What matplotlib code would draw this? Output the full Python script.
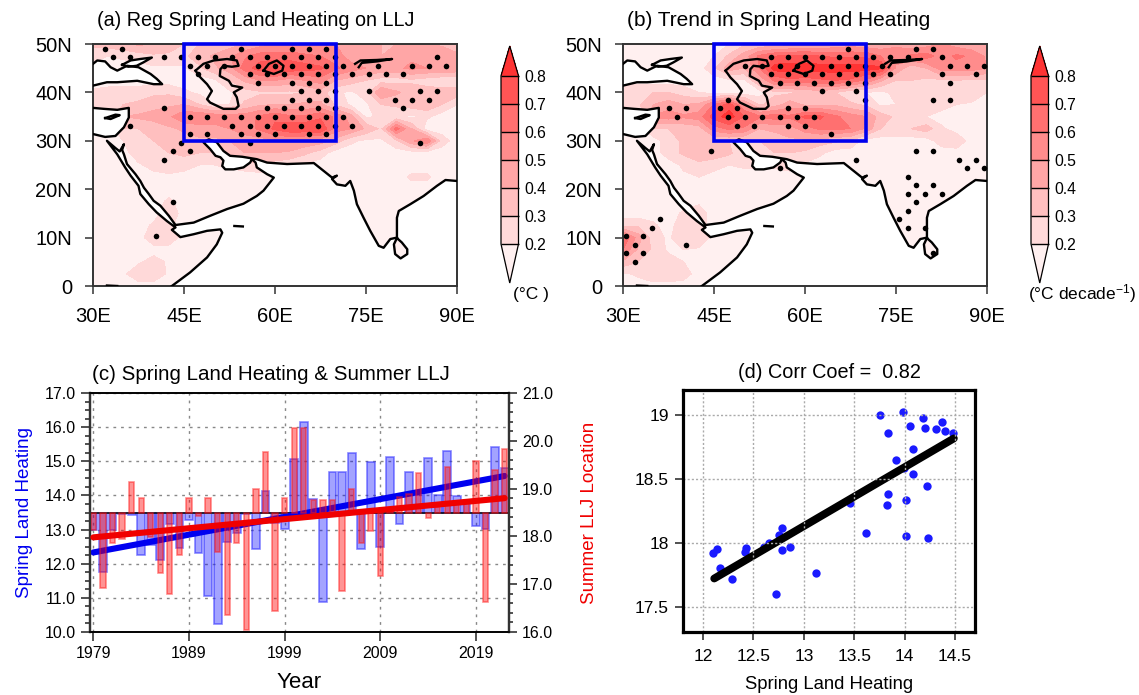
import matplotlib
matplotlib.use("Agg")
import matplotlib.pyplot as plt
import numpy as np
from matplotlib.colors import BoundaryNorm, ListedColormap
from matplotlib.patches import Rectangle
from matplotlib.ticker import MultipleLocator, FormatStrFormatter

plt.rcParams['font.family'] = ['Liberation Sans', 'DejaVu Sans']
plt.rcParams['mathtext.fontset'] = 'custom'
plt.rcParams['mathtext.rm'] = 'Liberation Sans'
plt.rcParams['mathtext.default'] = 'regular'

W, H = 1139, 695

# map data, lat rows from 50N to 0 every 2.5 deg, lon 30E to 90E every 2.5 deg (percent of 1 degC)
lons = np.arange(30, 90.1, 2.5)
lats = np.arange(50, -0.1, -2.5)

field_a = [
    [32,35,38,42,40,35,30,30,30,35,40,45,50,50,50,52,50,45,45,40,40,45,40,38,35],
    [25,20,22,25,28,28,28,35,42,48,58,65,65,65,62,60,55,45,42,40,42,48,50,48,42],
    [15,15,15,15,18,18,18,28,38,45,65,75,80,78,75,72,62,55,50,48,48,52,50,50,48],
    [15,15,15,15,15,15,15,15,18,30,42,50,50,45,50,55,40,35,30,25,25,28,25,22,22],
    [22,24,25,25,28,28,22,18,18,18,25,28,28,28,30,35,22,18,25,50,42,35,35,35,35],
    [28,28,30,32,35,38,40,30,20,20,32,38,40,40,42,42,28,18,18,30,32,35,38,30,20],
    [20,25,40,42,45,48,58,60,58,58,55,62,68,62,62,68,58,45,18,22,22,18,22,15,15],
    [15,15,30,30,32,38,42,45,45,50,55,62,72,78,78,80,55,50,38,28,65,40,15,15,15],
    [15,15,20,30,30,32,35,38,38,40,45,45,50,50,48,45,35,22,18,18,28,48,60,25,15],
    [15,15,15,28,30,30,32,30,30,35,40,40,40,38,32,25,15,15,15,15,15,15,15,15,15],
    [15,15,15,18,25,25,25,20,20,22,25,28,25,22,18,15,15,15,15,15,15,15,15,15,15],
    [15,15,15,15,15,18,15,15,15,15,15,15,15,15,15,15,15,15,15,15,15,22,22,15,15],
    [15,15,15,15,15,15,15,15,15,15,15,15,15,15,15,15,15,15,15,15,15,15,15,15,15],
    [15,15,15,15,15,22,15,15,15,15,15,15,15,15,15,15,15,15,15,15,15,15,15,15,15],
    [15,15,15,15,15,28,15,15,15,15,15,15,15,15,15,15,15,15,15,15,15,15,15,15,15],
    [15,15,15,15,22,22,15,15,15,15,15,15,15,15,15,15,15,15,15,15,15,15,15,15,15],
    [15,15,15,15,28,28,15,15,15,15,15,15,15,15,15,15,15,15,15,15,15,15,15,15,15],
    [15,15,15,15,15,15,15,15,15,15,15,15,15,15,15,15,15,15,15,15,15,15,15,15,15],
    [15,15,15,18,25,18,15,15,15,15,15,15,15,15,15,15,15,15,15,15,15,15,15,15,15],
    [15,15,18,28,28,18,15,15,15,15,15,15,15,15,15,15,15,15,15,15,15,15,15,15,15],
    [15,15,15,15,15,15,15,15,15,15,15,15,15,15,15,15,15,15,15,15,15,15,15,15,15],
]

field_b = [
    [15,18,18,15,15,15,18,20,28,32,32,35,38,38,42,45,42,42,48,42,45,50,45,42,38],
    [15,15,12,15,15,15,20,32,45,62,70,72,72,70,68,68,68,60,55,62,65,55,62,58,48],
    [15,15,15,15,15,15,28,45,40,60,85,85,85,85,85,85,85,82,48,32,40,55,55,55,50],
    [15,15,15,15,15,15,15,18,18,42,62,68,65,68,70,68,58,42,30,30,28,28,30,28,28],
    [28,30,30,30,25,20,15,15,15,15,28,28,32,35,30,22,20,18,22,30,28,28,30,28,20],
    [22,28,40,45,40,42,60,75,50,28,35,45,38,38,38,32,28,18,20,22,28,25,20,18,15],
    [15,20,52,55,52,55,75,85,70,62,65,62,72,72,62,55,50,35,28,30,20,15,15,15,15],
    [15,15,30,30,32,35,55,62,58,40,42,45,55,62,62,60,48,30,28,30,35,22,15,15,15],
    [15,15,15,25,32,35,32,30,28,30,35,38,38,35,32,28,15,15,15,15,15,25,28,15,15],
    [15,15,15,25,32,35,35,32,22,28,30,30,28,22,15,15,15,15,15,15,15,15,15,15,15],
    [15,15,15,15,22,28,25,20,22,22,22,25,18,15,15,15,15,15,15,15,15,15,15,15,15],
    [15,15,15,15,18,20,15,15,15,15,15,15,15,15,15,15,15,15,15,15,15,15,15,15,15],
    [15,15,15,15,15,15,15,15,15,15,15,15,15,15,15,15,15,15,15,15,15,15,15,15,15],
    [15,15,15,15,15,18,15,15,15,15,15,15,15,15,15,15,15,15,15,15,15,15,15,15,15],
    [15,15,15,15,22,25,15,15,15,15,15,15,15,15,15,15,15,15,15,15,15,15,15,15,15],
    [28,28,22,15,28,25,15,15,15,15,15,15,15,15,15,15,15,15,15,15,15,15,15,15,15],
    [70,45,25,18,28,30,15,15,15,15,15,15,15,15,15,15,15,15,15,15,15,15,15,15,15],
    [60,38,28,18,20,18,15,15,15,15,15,15,15,15,15,15,15,15,15,15,15,15,15,15,15],
    [38,30,25,25,20,18,15,15,15,15,15,15,15,15,15,15,15,15,15,15,15,15,15,15,15],
    [18,22,30,30,25,15,15,15,15,15,15,15,15,15,15,15,15,15,15,15,15,15,15,15,15],
    [15,15,15,15,15,15,15,15,15,15,15,15,15,15,15,15,15,15,15,15,15,15,15,15,15],
]

# stippling: (row number from the top, column numbers) on a staggered 2.8 x 1.76 deg grid
stip_a = [
    (0, [0,1,8,11,12,13]), (1, [0,1,3,4,5,6,7,8,9,10,11,12,13,19]),
    (2, [5,6,7,9,10,11,12,13,14,16,18,19,20]), (3, [5,8,9,10,11,12,13,14,15,16,17]),
    (4, [9,11,12,13]), (5, [11,12,13,15,18,19]), (6, [11,12,13,17,18,19]),
    (7, [3,9,10,11,12,13,17]), (8, [5,6,7,8,9,10,11,12,13,14]),
    (9, [1,7,8,9,10,11,12,13,14]), (10, [5,6,8,9,10,12,13]), (11, [4,8,18]),
    (12, [4,5]), (13, [3]), (18, [4]), (22, [3]),
]
stip_b = [
    (0, [12,16,17]), (1, [8,9,10,11,12,13,14,15,16,18]),
    (2, [6,7,8,9,11,12,13,14,18,19,20]), (3, [8,9,10,11,12,13,14,15,18,20]),
    (4, [8,9,10,11,12,13,18]), (5, [11,13]), (6, [5,13,17,18]),
    (7, [2,3,5,6,9,10]), (8, [2,5,6,7,8,9,10]), (9, [6,7,9,10]), (10, [11]),
    (12, [4,16,17]), (13, [13,19,20]), (14, [8,19,20]), (15, [16]), (16, [16,17]),
    (17, [16,17,18]), (18, [16]), (19, [16]), (20, [1,15]), (21, [1,16,17]),
    (22, [-1,0]), (23, [0,3]), (24, [-1,0,17]), (25, [0]),
]

# coastlines (lon, lat)
coast_main = [
    (43.0,0),(46.0,2.8),(48.8,5.9),(50.4,8.6),(51.3,11.0),(51.0,11.7),(48.8,11.4),(46.6,10.7),
    (44.4,10.1),(43.0,11.6),(43.6,12.1),(42.2,13.4),(40.5,15.2),(39.2,16.9),(37.8,19.0),(37.5,20.7),
    (36.2,22.8),(35.3,24.5),(34.0,27.2),(32.3,30.0),(33.7,28.5),(34.4,27.8),(35.1,29.3),(34.8,28.1),
    (35.1,27.2),(35.6,25.2),(37.0,23.1),(37.8,21.7),(38.4,20.3),(39.2,19.0),(40.0,17.6),(41.1,16.6),
    (42.5,14.5),(43.6,12.6),(46.6,13.1),(49.3,14.5),(52.1,15.9),(54.8,17.0),(57.0,18.6),(58.1,19.7),
    (59.8,22.4),(58.7,23.1),(57.0,24.5),(56.8,25.5),(56.2,26.2),(55.9,25.5),(54.8,24.5),(53.2,24.1),
    (51.8,24.1),(51.3,24.8),(51.5,25.9),(51.0,26.6),(50.2,26.9),(49.3,28.3),(48.2,29.7),(49.1,30.3),
    (50.4,29.7),(51.5,27.9),(52.6,26.9),(54.6,26.7),(57.0,26.2),(58.7,25.5),(62.0,25.2),(64.2,25.3),
    (66.4,25.4),(68.0,23.8),(69.4,22.4),(70.2,22.8),(69.4,22.1),(70.2,21.0),(71.6,20.7),(72.4,21.7),
    (73.0,19.7),(73.5,16.9),(74.6,14.1),(75.7,11.4),(77.1,8.3),(77.9,7.9),(79.0,9.7),(80.1,10.0),
    (80.1,14.1),(80.4,15.5),(82.3,16.9),(84.5,18.6),(86.7,20.7),(88.1,21.9),(90.0,21.7),
]
sri_lanka = [(80.1,9.9),(79.6,8.6),(79.8,6.6),(80.7,5.7),(81.8,6.6),(81.8,7.6),(80.9,9.0),(80.1,9.9)]
black_sea = [
    (30,41.4),(32.3,42.1),(34,42.1),(37.3,42.4),(40,41.7),(41.4,41.7),(40.5,42.8),(39.5,43.8),
    (37.5,45.2),(35.6,45.5),(34,44.5),(32.9,45.2),(32,46.4),(30.7,46.6),(30,45.9),
]
azov = [(34.8,45.7),(36.2,46.6),(37.8,46.9),(39.7,47.2),(38.3,46.2),(37.2,45.5),(35.8,45.3),(34.8,45.7)]
med_sea = [(30,36.8),(31.8,36.6),(34,36.4),(35.9,36.8),(35.9,34.8),(35.1,32.8),(33.7,31.0),(32,30.8),(30,31.4)]
cyprus = [(32,34.7),(33.7,35.4),(34.4,35.3),(32.9,34.5),(32,34.7)]
caspian = [
    (46.9,44.5),(48.2,45.9),(49.9,46.6),(52.1,46.9),(53.7,46.6),(54.0,45.5),(52.9,45.3),(51.5,45.5),
    (51.0,44.8),(50.9,43.4),(52.4,42.4),(52.9,41.4),(54.6,41.0),(53.2,40.0),(53.7,39.0),(54.0,37.2),
    (53.5,36.6),(51.5,36.6),(49.3,37.9),(48.8,38.6),(49.6,40.3),(48.8,41.7),(47.7,43.1),(46.9,44.5),
]
aral = [(58.1,44.5),(59,45.9),(60.3,46.6),(61.4,45.5),(61.2,44.5),(59.8,43.8),(58.1,44.5)]
balkhash = [(73.2,45.9),(74.1,46.6),(76.8,46.7),(79.3,46.9),(76.8,46.4),(74.3,46.1),(73.8,45.2)]
socotra = [(53.3,12.4),(54.7,12.3)]
victoria = [(32.3,0.1),(34,0)]

levels = [.2, .3, .4, .5, .6, .7, .8]
shades = ['#FFD9D9', '#FFBFBF', '#FFA6A6', '#FF8C8C', '#FF7070', '#FF5555']
shade_under = '#FFF0F0'
shade_over = '#FF3333'

# time series panel
years = np.arange(1979, 2023)
land_heating = [13.0,11.76,13.0,13.47,13.43,12.25,12.55,12.1,13.16,12.47,13.28,12.31,11.06,10.22,12.64,
                12.91,13.47,12.42,14.13,13.18,13.02,15.06,16.15,13.91,10.88,14.68,14.7,15.24,12.44,14.98,
                12.5,15.13,13.15,14.7,14.02,15.1,14.02,15.29,13.97,13.8,13.11,13.02,15.43,14.8]
llj_location = [18.13,16.93,17.87,17.94,19.13,18.81,17.99,17.24,16.8,17.62,18.81,18.43,18.81,17.68,16.36,
                17.87,16.05,19.0,19.76,16.43,18.81,20.26,20.26,18.76,18.76,18.76,16.86,19.0,17.87,18.12,
                17.17,18.59,18.82,18.89,19.32,18.38,18.62,19.45,18.73,18.71,19.58,16.62,19.38,19.83]
trend_years = [1979, 2022]
heating_trend = [12.33, 14.57]
llj_trend = [17.98, 18.8]

# scatter panel
scatter_x = [12.10,12.14,12.17,12.29,12.42,12.43,12.60,12.65,12.75,12.78,12.78,12.86,12.72,13.12,13.46,13.62,
             13.76,13.84,13.98,14.05,14.18,14.20,14.31,14.37,14.40,14.48,14.08,13.92,13.99,14.08,14.22,13.84,
             13.83,14.01,14.01,14.23]
scatter_y = [17.92,17.95,17.80,17.72,17.93,17.96,17.97,18.00,18.06,18.12,17.94,17.97,17.60,17.76,18.31,18.08,
             19.00,18.86,19.03,18.92,18.98,18.90,18.89,18.95,18.88,18.86,18.74,18.65,18.59,18.54,18.45,18.38,
             18.30,18.34,18.05,18.04]
fit_x = [12.11, 14.49]
fit_y = [17.72, 18.82]


def px_axes(left, top, right, bottom):
    return fig.add_axes([left / W, 1 - bottom / H, (right - left) / W, (bottom - top) / H])


def draw_map(ax, field, stip, first_a):
    ax.set_facecolor('white')
    z = np.array(field) / 100.0
    cf = ax.contourf(lons, lats, z, levels=levels, cmap=cmap, norm=norm, extend='both', zorder=1)
    ax.fill(*zip(*(coast_main + [(90, 0)])), color='white', lw=0, zorder=2)
    ax.fill(*zip(*black_sea), color='white', lw=0, zorder=2)
    ax.fill(*zip(*azov), color='white', lw=0, zorder=2)
    ax.fill(*zip(*med_sea), color='white', lw=0, zorder=2)
    ax.fill(*zip(*cyprus), color=shade_under, lw=0, zorder=2)
    ax.fill(*zip(*sri_lanka), color=shade_under, lw=0, zorder=2)
    for line in [coast_main, sri_lanka, black_sea, azov, med_sea, cyprus, caspian, aral, balkhash, socotra, victoria]:
        ax.plot(*zip(*line), color='black', lw=1.7, zorder=3)
    xs, ys = [], []
    for j, cols in stip:
        phase_a = (j % 2 == 0) == first_a
        for k in cols:
            xs.append((31.9 if phase_a else 33.3) + 2.8125 * k)
            ys.append(49.0 - 1.76 * j)
    ax.scatter(xs, ys, s=16, color='black', lw=0, zorder=4)
    ax.add_patch(Rectangle((45, 30), 25, 20, fill=False, ec='#0000EE', lw=2.6, clip_on=False, zorder=5))
    ax.set_xlim(30, 90)
    ax.set_ylim(0, 50)
    ax.set_xticks([30, 45, 60, 75, 90])
    ax.set_xticklabels(['30E', '45E', '60E', '75E', '90E'])
    ax.set_yticks([0, 10, 20, 30, 40, 50])
    ax.set_yticklabels(['0', '10N', '20N', '30N', '40N', '50N'])
    ax.tick_params(length=6, width=1.1, color='#333333', labelsize=14.5, pad=9)
    for s in ax.spines.values():
        s.set_linewidth(1.4)
        s.set_color('#333333')
    return cf


def draw_bar(cf, left, label, lx):
    cax = px_axes(left, 46, left + 17.5, 283)
    cb = fig.colorbar(cf, cax=cax, extendfrac=[0.232, 0.177], spacing='uniform',
                      ticks=levels, drawedges=True)
    cb.ax.set_yticklabels(['0.2', '0.3', '0.4', '0.5', '0.6', '0.7', '0.8'])
    cb.ax.tick_params(length=0, labelsize=11.3, pad=4)
    cb.outline.set_linewidth(0.9)
    cb.dividers.set_linewidth(1.0)
    fig.text(lx / W, 1 - 294 / H, label, ha='center', va='center', fontsize=12.5)


fig = plt.figure(figsize=(W / 100, H / 100), dpi=100)
cmap = ListedColormap(shades)
cmap.set_under(shade_under)
cmap.set_over(shade_over)
norm = BoundaryNorm(levels, cmap.N)

ax_a = px_axes(93, 44, 457, 286)
cf_a = draw_map(ax_a, field_a, stip_a, True)
fig.text(97 / W, 1 - 21 / H, '(a) Reg Spring Land Heating on LLJ', fontsize=14.2, va='center')
draw_bar(cf_a, 501, '(°C )', 531)

ax_b = px_axes(623, 44, 987, 286)
cf_b = draw_map(ax_b, field_b, stip_b, False)
fig.text(627 / W, 1 - 21 / H, '(b) Trend in Spring Land Heating', fontsize=15, va='center')
draw_bar(cf_b, 1031, '(°C decade$^{-1}$)', 1082)

# panel c
ax_c = px_axes(89.5, 393, 509, 632)
ax_c.set_xlim(1978.6, 2022.45)
ax_c.set_ylim(10, 17)
ax_c.set_xticks([1979, 1989, 1999, 2009, 2019])
ax_c.yaxis.set_major_locator(MultipleLocator(1))
ax_c.yaxis.set_minor_locator(MultipleLocator(0.25))
ax_c.yaxis.set_major_formatter(FormatStrFormatter('%.1f'))
ax_c.grid(True, which='major', color='#888888', lw=1, ls=(0, (2, 3.5)))
ax_c.set_axisbelow(True)
ax_c.bar(years, np.array(land_heating) - 13.5, bottom=13.5, width=0.82, color=(0, 0, 1, 0.36),
         edgecolor=(0.15, 0.15, 1, 0.55), lw=1.2, zorder=2)
ax_c.axhline(13.5, color='black', lw=1.1, zorder=3)
ax_c.plot(trend_years, heating_trend, color='#0000F0', lw=4.4, solid_capstyle='round', zorder=4)
ax_c.tick_params(axis='both', which='major', length=6.5, width=1.2, color='#333333', labelsize=11.5)
ax_c.tick_params(axis='y', which='minor', length=3.5, width=1.2, color='#333333')
ax_c.set_xlabel('Year', fontsize=16, labelpad=8)
ax_c.set_ylabel('Spring Land Heating', color='#0000F0', fontsize=13.5, labelpad=8)

ax_r = ax_c.twinx()
ax_r.set_ylim(16, 21)
ax_r.yaxis.set_major_locator(MultipleLocator(1))
ax_r.yaxis.set_minor_locator(MultipleLocator(0.2))
ax_r.yaxis.set_major_formatter(FormatStrFormatter('%.1f'))
ax_r.bar(years, np.array(llj_location) - 18.5, bottom=18.5, width=0.55, color=(1, 0, 0, 0.42),
         edgecolor=(1, 0.1, 0.1, 0.5), lw=1.2, zorder=2)
ax_r.plot(trend_years, llj_trend, color='#F00000', lw=4.4, solid_capstyle='round', zorder=4)
ax_r.tick_params(axis='y', which='major', length=6, width=1.2, color='#333333', labelsize=11.5)
ax_r.tick_params(axis='y', which='minor', length=3, width=1.2, color='#333333')
ax_r.set_ylabel('Summer LLJ Location', color='#F00000', fontsize=13.5, labelpad=20)
for a in (ax_c, ax_r):
    a.spines['left'].set_linewidth(1.6)
    a.spines['right'].set_linewidth(1.6)
    a.spines['left'].set_color('#333333')
    a.spines['right'].set_color('#333333')
    a.spines['top'].set_linewidth(1.2)
    a.spines['bottom'].set_linewidth(1.2)
fig.text(92 / W, 1 - 375 / H, '(c) Spring Land Heating & Summer LLJ', fontsize=14.8, va='center')

# panel d
ax_d = px_axes(683, 390, 975, 632)
ax_d.set_xlim(11.8, 14.7)
ax_d.set_ylim(17.3, 19.2)
ax_d.scatter(scatter_x, scatter_y, s=36, color='#1A1AFF', lw=0, zorder=2)
ax_d.plot(fit_x, fit_y, color='black', lw=5.6, solid_capstyle='round', zorder=2.2)
ax_d.set_xticks([12, 12.5, 13, 13.5, 14, 14.5])
ax_d.set_xticklabels(['12', '12.5', '13', '13.5', '14', '14.5'])
ax_d.set_yticks([17.5, 18, 18.5, 19])
ax_d.set_yticklabels(['17.5', '18', '18.5', '19'])
ax_d.grid(True, color='#AAAAAA', lw=1, ls=(0, (1.5, 1.5)))
ax_d.set_axisbelow(False)
ax_d.tick_params(length=6, width=1.2, color='#333333', labelsize=12.5, pad=6)
ax_d.tick_params(axis='y', pad=4)
for s in ax_d.spines.values():
    s.set_linewidth(2.3)
    s.set_zorder(6)
ax_d.set_xlabel('Spring Land Heating', fontsize=13.3, labelpad=9)
fig.text(829 / W, 1 - 372 / H, '(d) Corr Coef =  0.82', fontsize=14.3, ha='center', va='center')

fig.savefig('out.png', dpi=100)
